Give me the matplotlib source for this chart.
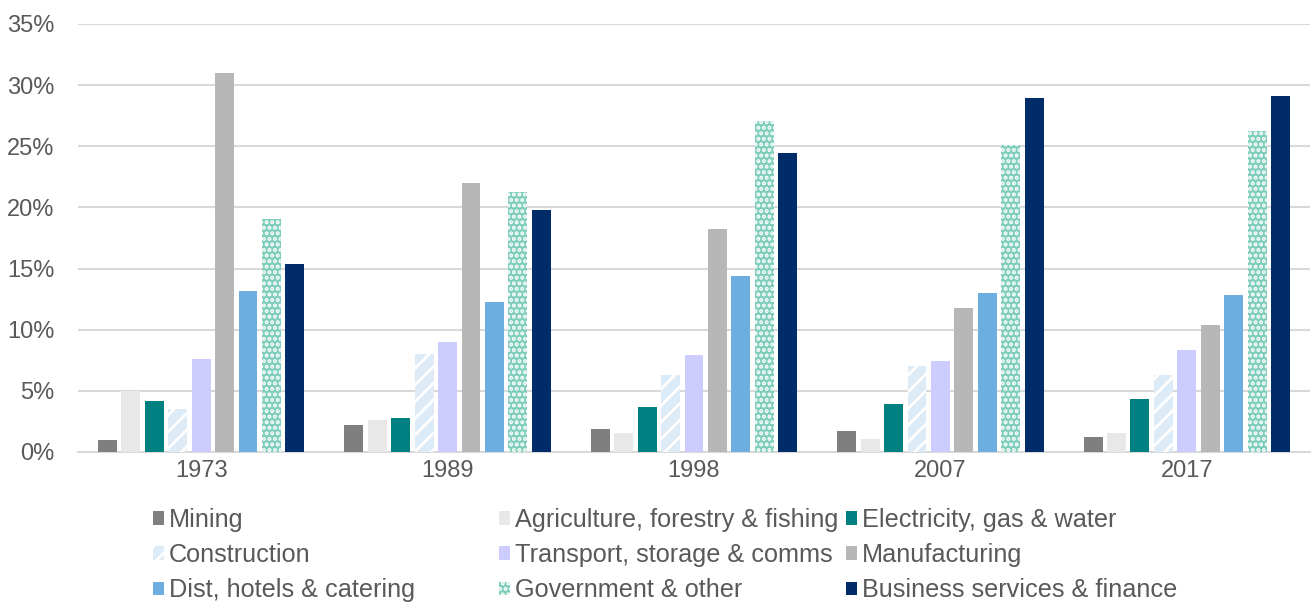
import numpy as np
import matplotlib
matplotlib.use("Agg")
import matplotlib.pyplot as plt
from matplotlib.ticker import FuncFormatter

plt.rcParams['font.family'] = ['Liberation Sans', 'DejaVu Sans']

# data (% share)
years = ["1973", "1989", "1998", "2007", "2017"]
sectors = ["Mining", "Agriculture, forestry & fishing", "Electricity, gas & water",
           "Construction", "Transport, storage & comms", "Manufacturing",
           "Dist, hotels & catering", "Government & other", "Business services & finance"]

mining = [1.0, 2.2, 1.9, 1.7, 1.2]
agriculture = [5.0, 2.6, 1.55, 1.05, 1.55]
electricity = [4.2, 2.8, 3.7, 3.9, 4.35]
construction = [3.5, 8.0, 6.3, 7.0, 6.3]
transport = [7.6, 9.0, 7.9, 7.45, 8.35]
manufacturing = [31.0, 22.0, 18.2, 11.8, 10.4]
dist_hotels = [13.2, 12.3, 14.4, 13.0, 12.85]
government = [19.05, 21.3, 27.1, 25.1, 26.25]
business = [15.4, 19.8, 24.45, 28.95, 29.1]

series = [mining, agriculture, electricity, construction, transport,
          manufacturing, dist_hotels, government, business]
colors = ["#7F7F7F", "#E8E8E8", "#008080", "#DDEBF7", "#CCCCFF",
          "#B7B7B7", "#6CAEE0", "#7FCDBB", "#002D6A"]
hatches = [None, None, None, "//", None, None, None, "...", None]

fig = plt.figure(figsize=(13.15, 6.04), dpi=100)
ax = fig.add_axes([0.0593, 0.2517, 0.9369, 0.7086])

x = np.arange(len(years))
slot = 0.095
width = 0.077
handles = []
for i, (vals, name) in enumerate(zip(series, sectors)):
    off = (i - 4) * slot
    if hatches[i]:
        plt.rcParams['hatch.linewidth'] = 2.0
        b = ax.bar(x + off, vals, width, color=colors[i], edgecolor="white",
                   linewidth=0, hatch=hatches[i], label=name, zorder=3)
    else:
        b = ax.bar(x + off, vals, width, color=colors[i], linewidth=0,
                   label=name, zorder=3)
    handles.append(b)

ax.set_xlim(-0.5, 4.5)
ax.set_ylim(0, 35)
ax.set_yticks(np.arange(0, 36, 5))
ax.yaxis.set_major_formatter(FuncFormatter(lambda v, p: f"{v:.0f}%"))
ax.set_xticks(x)
ax.set_xticklabels(years)
ax.grid(axis="y", color="#D9D9D9", linewidth=1.5, zorder=0)
for s in ["top", "right", "left"]:
    ax.spines[s].set_visible(False)
ax.spines["bottom"].set_color("#D9D9D9")
ax.spines["bottom"].set_linewidth(1.5)
ax.tick_params(axis="both", length=0, labelsize=17, colors="#595959")
ax.tick_params(axis="y", pad=17)
ax.tick_params(axis="x", pad=6)

# legend: three columns, placed separately
col_x = [0.1163, 0.3795, 0.6433]
for c in range(3):
    idx = [c, c + 3, c + 6]
    fig.legend([handles[k] for k in idx], [sectors[k] for k in idx],
               loc="center left", bbox_to_anchor=(col_x[c], 0.081),
               frameon=False, fontsize=18.2, labelcolor="#595959",
               handlelength=0.43, handleheight=0.43, handletextpad=0.2,
               labelspacing=0.44, borderaxespad=0, borderpad=0)

fig.savefig("out.png", dpi=100)
